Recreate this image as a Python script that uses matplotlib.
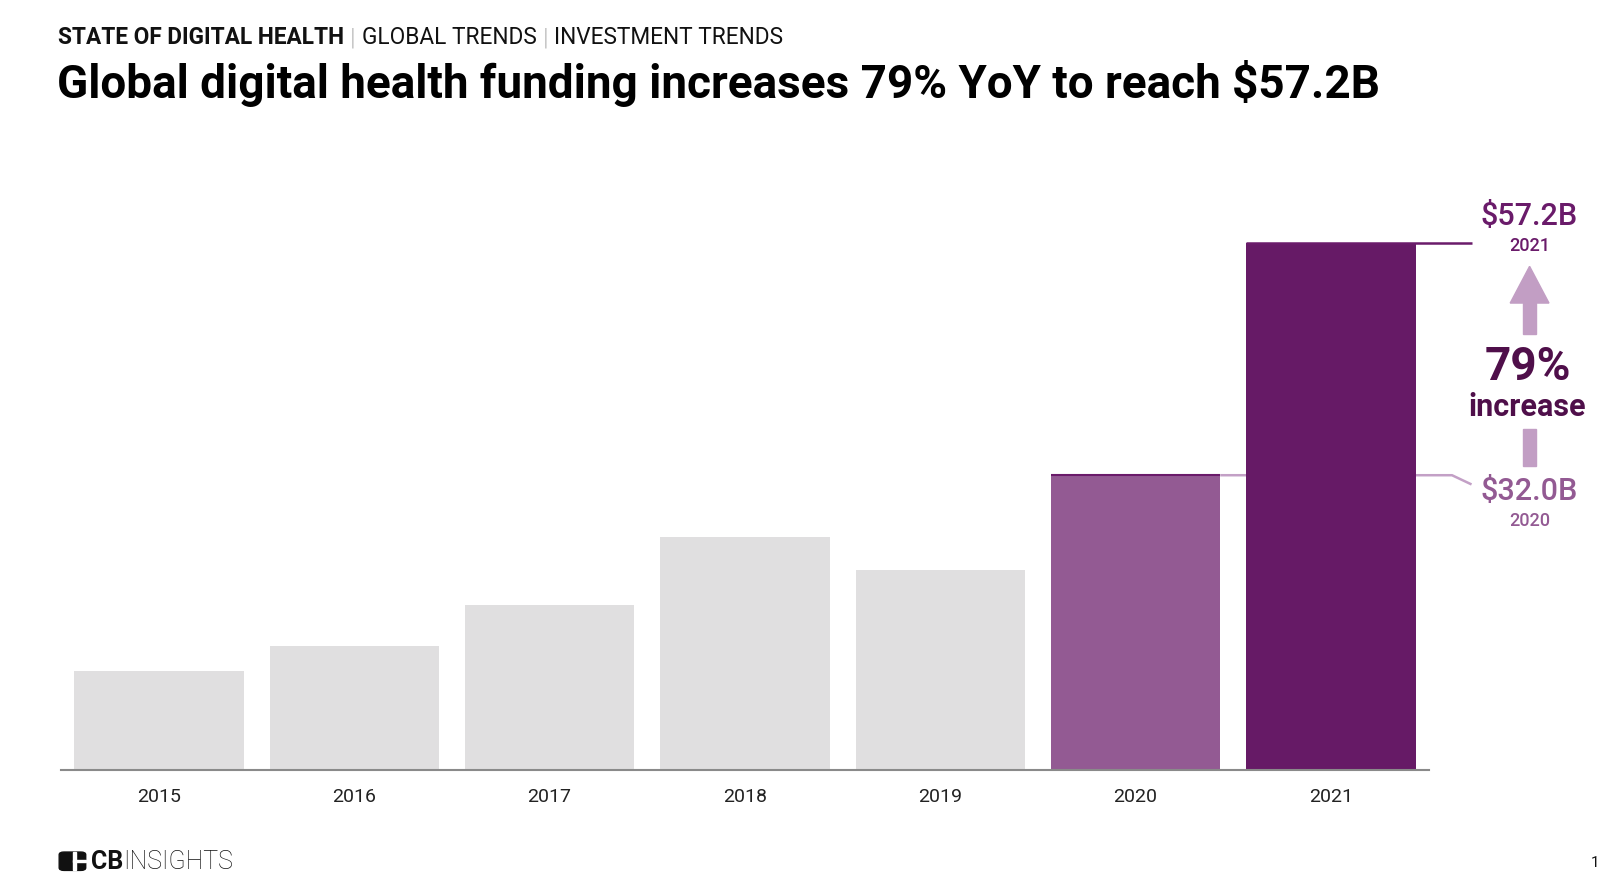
import matplotlib
matplotlib.use("Agg")
import matplotlib.pyplot as plt
from matplotlib.patches import FancyBboxPatch, Rectangle, Polygon

years = ["2015", "2016", "2017", "2018", "2019", "2020", "2021"]
funding = [10.8, 13.5, 17.9, 25.3, 21.7, 32.0, 57.2]
bar_colors = ["#e0dfe0"] * 5 + ["#935a93", "#661a66"]

title = "Global digital health funding increases 79% YoY to reach $57.2B"
header_bold = "STATE OF DIGITAL HEALTH"
header_rest = ["GLOBAL TRENDS", "INVESTMENT TRENDS"]

plt.rcParams['font.family'] = ['Roboto', 'DejaVu Sans']

W, H = 1600, 884
S = 1600 / 1568.0  # reference readings were taken on a 1568-wide view


def px(xp, yp):
    return xp * S / W, 1 - yp * S / H


fig = plt.figure(figsize=(16, 8.84), dpi=100)
l, b = px(60, 755)
r_, t = px(1400, 212.6)
ax = fig.add_axes([l, b, r_ - l, t - b])
x = list(range(len(years)))
ax.bar(x, funding, width=0.867, color=bar_colors, zorder=2)
ax.set_xlim(-0.5, 6.5)
ax.set_ylim(0, 60)
for s in ["top", "right", "left"]:
    ax.spines[s].set_visible(False)
ax.spines["bottom"].set_color("#8a8a8a")
ax.spines["bottom"].set_linewidth(1.5)
ax.set_yticks([])
ax.set_xticks(x)
ax.set_xticklabels(years, fontsize=14, color="#222222")
ax.tick_params(axis="x", length=0, pad=13)

# connector lines
v20, v21 = funding[5], funding[6]
ax.plot([5 - 0.4335, 5 + 0.4335], [v20, v20], color="#6a1b6a", lw=1.5, zorder=3, solid_capstyle="butt")
ax.plot([5 + 0.4335, 6.62, 6.72], [v20, v20, v20 - 1.0], color="#c3a0c6", lw=1.8, zorder=1,
        clip_on=False, solid_capstyle="butt")
ax.plot([6 - 0.4335, 6.72], [v21, v21], color="#6a1b6a", lw=1.8, zorder=3, clip_on=False,
        solid_capstyle="butt")

fig.text(*px(1499, 212), "$57.2B", fontsize=22, fontweight="medium", color="#6a1b6a", ha="center", va="center")
fig.text(*px(1499, 241), "2021", fontsize=13, fontweight="medium", color="#6a1b6a", ha="center", va="center")
fig.text(*px(1499, 482), "$32.0B", fontsize=22, fontweight="medium", color="#935a93", ha="center", va="center")
fig.text(*px(1499, 511), "2020", fontsize=13, fontweight="medium", color="#935a93", ha="center", va="center")
fig.text(*px(1497, 360), "79%", fontsize=33, fontweight="bold", color="#4f0f4a", ha="center", va="center")
fig.text(*px(1497, 399), "increase", fontsize=22, fontweight="bold", color="#4f0f4a", ha="center", va="center")

arrow_c = "#c29ec4"
tri = Polygon([px(1480, 297), px(1518, 297), px(1499, 261)], closed=True,
              transform=fig.transFigure, color=arrow_c)
fig.add_artist(tri)
fig.add_artist(Rectangle(px(1493, 327), 12 * S / W, 30 * S / H, transform=fig.transFigure, color=arrow_c))
fig.add_artist(Rectangle(px(1493, 457), 12 * S / W, 37 * S / H, transform=fig.transFigure, color=arrow_c))

# header
hy = px(0, 37)[1]
t1 = fig.text(px(57, 0)[0], hy, header_bold, fontsize=16.3, fontweight="bold", color="#111111",
              ha="left", va="center")
fig.canvas.draw()
r = fig.canvas.get_renderer()
xcur = t1.get_window_extent(r).x1
for part in header_rest:
    sep = fig.text((xcur + 6) / W, hy, "|", fontsize=16.3, color="#c8c8c8", ha="left", va="center")
    xcur = sep.get_window_extent(r).x1
    tt = fig.text((xcur + 6) / W, hy, part, fontsize=16.3, color="#111111", ha="left", va="center")
    xcur = tt.get_window_extent(r).x1

fig.text(*px(56, 82), title, fontsize=33, fontweight="bold", color="#000000", ha="left", va="center")

# logo
fig.add_artist(FancyBboxPatch(px(58, 853), 26 * S / W, 18 * S / H, boxstyle="round,pad=0,rounding_size=0.003",
                              transform=fig.transFigure, color="#111111"))
fig.add_artist(Rectangle(px(72, 853), 2 * S / W, 18 * S / H, transform=fig.transFigure, color="white"))
fig.add_artist(Rectangle(px(72, 845), 12 * S / W, 2 * S / H, transform=fig.transFigure, color="white"))
lc = fig.text(*px(89, 845), "CB", fontsize=18, fontweight="bold", color="#111111", ha="left", va="center")
fig.canvas.draw()
xl = lc.get_window_extent(r).x1
fig.text(xl / W, px(0, 845)[1], "INSIGHTS", fontsize=18, fontweight="light", color="#111111",
         ha="left", va="center")
fig.text(*px(1563, 846), "1", fontsize=11, color="#111111", ha="center", va="center")

fig.savefig("out.png", dpi=100)
